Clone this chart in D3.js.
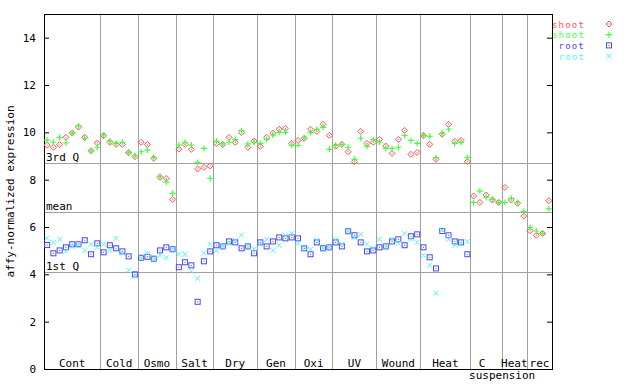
<!DOCTYPE html>
<html>
<head>
<meta charset="utf-8">
<script src="https://cdn.jsdelivr.net/npm/d3@7"></script>
<style>
  body { margin: 0; background: #fff; }
  text { font-family: "DejaVu Sans Mono", monospace; font-size: 11px; }
</style>
</head>
<body>
<div id="root"></div>
<script>
// sample groups along x, and how many samples each holds
const groups = ["Cont", "Cold", "Osmo", "Salt", "Dry", "Gen", "Oxi", "UV", "Wound", "Heat", "C suspension", "Heat", "rec"];
const groupSizes = [9, 6, 6, 6, 7, 6, 6, 7, 7, 8, 5, 4, 4];

const yTicks = [0, 2, 4, 6, 8, 10, 12, 14];

// reference lines
const quartile3 = 8.69;
const meanLine = 6.62;
const quartile1 = 4.08;

const shootA = [
  9.46, 9.37, 9.48, 9.79, 9.97, 10.22, 9.79, 9.22, 9.55,
  9.86, 9.58, 9.49, 9.49, 9.14, 8.97,
  9.58, 9.48, 8.90, 8.10, 8.05, 7.17,
  9.29, 9.49, 9.28, 8.45, 8.52, 8.58,
  9.53, 9.49, 9.79, 9.58, 9.99, 9.37, 9.63,
  9.41, 9.79, 9.96, 10.13, 10.17, 9.53,
  9.66, 9.75, 10.13, 10.04, 10.34, 9.87,
  9.41, 9.49, 9.18, 8.76, 10.04, 9.53, 9.58,
  9.70, 9.42, 9.11, 9.70, 10.08, 9.07, 9.15,
  9.87, 9.49, 8.86, 9.92, 10.34, 9.62, 9.66, 8.76,
  7.31, 7.04, 7.35, 7.14, 7.04,
  7.67, 7.14, 7.00, 6.46,
  5.84, 5.65, 5.73, 7.11
];
const shootB = [
  9.67, 9.58, 9.79, 9.55, 9.97, 10.27, 9.75, 9.22, 9.37,
  9.89, 9.63, 9.53, 9.58, 9.15, 9.01,
  9.18, 9.25, 8.94, 8.14, 7.90, 7.42,
  9.46, 9.58, 9.46, 8.73, 9.32, 8.05,
  9.63, 9.51, 9.58, 9.70, 10.07, 9.51, 9.58,
  9.53, 9.70, 9.89, 10.00, 10.00, 9.45,
  9.45, 9.77, 9.99, 10.13, 10.21, 9.28,
  9.45, 9.49, 9.37, 8.86, 9.75, 9.41, 9.70,
  9.58, 9.32, 9.32, 9.37, 9.87, 9.66, 9.53,
  9.87, 9.83, 8.93, 9.96, 10.13, 9.53, 9.58, 8.94,
  7.04, 7.52, 7.25, 7.17, 7.03,
  7.04, 7.21, 7.03, 6.66,
  5.98, 5.83, 5.73, 6.77
];
const rootA = [
  5.24, 4.89, 5.01, 5.14, 5.27, 5.27, 5.44, 4.85, 5.31,
  4.93, 5.23, 5.10, 4.97, 4.76, 4.00,
  4.70, 4.74, 4.66, 5.01, 5.14, 5.06,
  4.30, 4.51, 4.38, 2.84, 4.55, 4.97,
  5.23, 5.18, 5.39, 5.35, 5.10, 5.18, 4.89,
  5.35, 5.18, 5.39, 5.56, 5.52, 5.56,
  5.52, 5.10, 4.85, 5.35, 5.10, 5.14,
  5.35, 5.18, 5.82, 5.65, 5.35, 4.97, 5.01,
  5.14, 5.18, 5.39, 5.48, 5.23, 5.61, 5.69,
  5.14, 4.72, 4.25, 5.83, 5.65, 5.39, 5.35, 4.85
];
const rootB = [
  5.52, 5.35, 5.48, 4.97, 5.18, 5.27, 5.01, 5.27, 5.14,
  5.27, 5.01, 5.52, 4.89, 4.17, 3.92,
  4.70, 4.89, 4.66, 4.80, 4.70, 5.06,
  4.85, 4.85, 4.13, 3.83, 4.89, 5.27,
  5.00, 5.18, 5.31, 5.44, 5.66, 5.18, 5.06,
  5.31, 5.48, 5.01, 5.23, 5.65, 5.73,
  5.31, 5.14, 5.06, 5.44, 5.10, 5.14,
  5.48, 5.27, 5.82, 5.56, 5.69, 5.27, 5.10,
  5.48, 5.18, 5.48, 5.31, 5.73, 5.48, 5.35,
  4.80, 4.38, 3.20, 5.87, 5.48, 5.23, 5.31, 5.39
];

const series = [
  {name: "shoot", values: shootA, color: "#ff5050", shape: "diamond"},
  {name: "shoot", values: shootB, color: "#40ff40", shape: "plus"},
  {name: "root", values: rootA, color: "#4848f0", shape: "square"},
  {name: "root", values: rootB, color: "#50f8f8", shape: "cross"}
];

const svg = d3.select("#root")
  .append("svg")
  .attr("width", 640)
  .attr("height", 384);

const margin = {top: 14, right: 552, bottom: 369, left: 44};
const total = d3.sum(groupSizes);

const x = d3.scaleLinear().domain([0, total]).range([margin.left, margin.right]);
const y = d3.scaleLinear().domain([0, 15]).range([margin.bottom, margin.top]);

// group boundaries
const bounds = [0];
groupSizes.forEach(function(n, i) { bounds.push(bounds[i] + n); });

svg.append("g")
  .selectAll("line")
  .data(bounds.slice(1, -1))
  .enter().append("line")
    .attr("x1", function(d) { return Math.round(x(d)) + 0.5; })
    .attr("x2", function(d) { return Math.round(x(d)) + 0.5; })
    .attr("y1", margin.top)
    .attr("y2", margin.bottom)
    .attr("stroke", "#a0a0a0");

// quartile / mean lines
const refs = [
  {label: "3rd Q", v: quartile3},
  {label: "mean", v: meanLine},
  {label: "1st Q", v: quartile1}
];
svg.append("g")
  .selectAll("line")
  .data(refs)
  .enter().append("line")
    .attr("x1", margin.left)
    .attr("x2", margin.right)
    .attr("y1", function(d) { return Math.round(y(d.v)) + 0.5; })
    .attr("y2", function(d) { return Math.round(y(d.v)) + 0.5; })
    .attr("stroke", "#a0a0a0");
svg.append("g")
  .selectAll("text")
  .data(refs)
  .enter().append("text")
    .attr("x", margin.left + 2)
    .attr("y", function(d) { return y(d.v) - 2; })
    .text(function(d) { return d.label; });

// axes, ticks inward
svg.append("g")
    .attr("transform", "translate(" + margin.left + ",0)")
    .call(d3.axisLeft(y).tickValues(yTicks).tickSize(-5).tickPadding(8).tickFormat(d3.format("d")))
    .call(function(g) { g.select(".domain").remove(); })
    .call(function(g) { g.selectAll("text").attr("font-size", 11).attr("font-family", "DejaVu Sans Mono"); });

svg.append("g")
    .attr("transform", "translate(" + margin.right + ",0)")
    .call(d3.axisRight(y).tickValues(yTicks).tickSize(-5).tickFormat(""))
    .call(function(g) { g.select(".domain").remove(); });

svg.append("rect")
    .attr("x", margin.left + 0.5)
    .attr("y", margin.top + 0.5)
    .attr("width", margin.right - margin.left)
    .attr("height", margin.bottom - margin.top)
    .attr("fill", "none")
    .attr("stroke", "#000");

// group labels
const labels = svg.append("g").attr("text-anchor", "middle");
groups.forEach(function(name, i) {
  const cx = x((bounds[i] + bounds[i + 1]) / 2);
  const parts = name.split(" ");
  if (parts.length > 1) {
    labels.append("text").attr("x", cx - 4).attr("y", margin.bottom - 2).text(parts[0]);
    labels.append("text").attr("x", cx + 16).attr("y", margin.bottom + 10).text(parts[1]);
  } else {
    labels.append("text").attr("x", cx).attr("y", margin.bottom - 2).text(name);
  }
});

// y title
svg.append("text")
    .attr("transform", "translate(14," + ((margin.top + margin.bottom) / 2) + ") rotate(-90)")
    .attr("text-anchor", "middle")
    .text("affy-normalized expression");

function marker(sel, shape, color) {
  const r = 2.5;
  if (shape === "diamond") {
    sel.append("path").attr("d", "M0,-3L3,0L0,3L-3,0Z").attr("fill", "none").attr("stroke", color);
    sel.append("rect").attr("x", -0.5).attr("y", -0.5).attr("width", 1).attr("height", 1).attr("fill", color);
  } else if (shape === "plus") {
    sel.append("path").attr("d", "M-3,0H3M0,-3V3").attr("stroke", color).attr("stroke-width", 1.2);
  } else if (shape === "square") {
    sel.append("rect").attr("x", -r).attr("y", -r).attr("width", 2 * r).attr("height", 2 * r)
      .attr("fill", "none").attr("stroke", color);
    sel.append("rect").attr("x", -0.5).attr("y", -0.5).attr("width", 1).attr("height", 1).attr("fill", color);
  } else {
    sel.append("path").attr("d", "M-2.5,-2.5L2.5,2.5M-2.5,2.5L2.5,-2.5").attr("stroke", color);
  }
}

// points
series.forEach(function(s) {
  svg.append("g")
    .selectAll("g")
    .data(s.values)
    .enter().append("g")
      .attr("transform", function(d, i) { return "translate(" + x(i + 0.5) + "," + y(d) + ")"; })
      .each(function() { marker(d3.select(this), s.shape, s.color); });
});

// legend
const legend = svg.append("g");
series.forEach(function(s, i) {
  const ly = 24 + i * 10.7;
  legend.append("text")
    .attr("x", 585)
    .attr("y", ly + 3.5)
    .attr("text-anchor", "end")
    .attr("fill", s.color)
    .style("font-size", "9px")
    .style("letter-spacing", "1.2px")
    .text(s.name);
  const m = legend.append("g").attr("transform", "translate(609," + ly + ")");
  marker(m, s.shape, s.color);
});
</script>
</body>
</html>
